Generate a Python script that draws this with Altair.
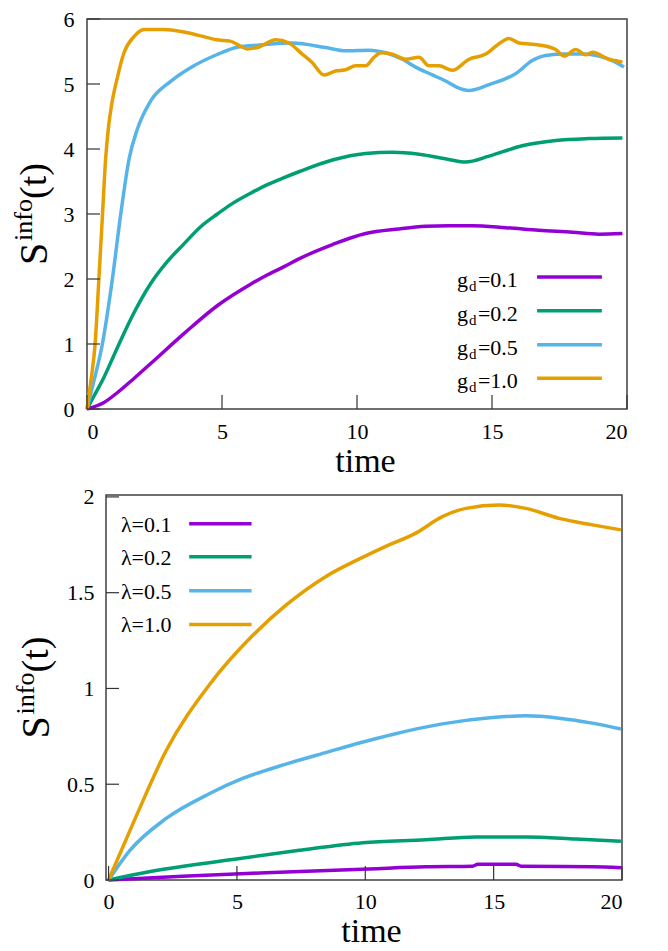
import altair as alt
import pandas as pd

FONT = "Liberation Serif"
COLORS = ["#9400d3", "#009e73", "#56b4e9", "#e69f00"]

# ---------------- top panel (g_d) ----------------
top_names = ["0.1", "0.2", "0.5", "1.0"]

top_t_01 = [0, 0.63, 1.12, 1.74, 2.36, 3.59, 4.86, 6.06, 6.62, 7.3, 7.85, 9.09, 10.32, 11.56, 12.54, 13.4, 14.27, 15.51, 16.74, 17.98, 18.96, 19.83]
top_s_01 = [0, 0.10, 0.25, 0.47, 0.70, 1.16, 1.60, 1.92, 2.05, 2.19, 2.31, 2.53, 2.70, 2.77, 2.81, 2.82, 2.82, 2.79, 2.75, 2.72, 2.69, 2.70]

top_t_02 = [0, 0.26, 0.63, 1.12, 1.74, 2.36, 2.98, 3.59, 4.2, 4.83, 5.38, 6.06, 6.62, 7.3, 7.85, 9.09, 10.32, 11.31, 12.3, 13.4, 14.02, 14.89, 16.12, 17.36, 18.59, 19.83]
top_s_02 = [0, 0.20, 0.49, 0.94, 1.48, 1.93, 2.27, 2.54, 2.80, 3.00, 3.16, 3.32, 3.44, 3.56, 3.65, 3.83, 3.93, 3.95, 3.92, 3.84, 3.80, 3.89, 4.05, 4.13, 4.16, 4.17]

top_t_05 = [0, 0.25, 0.57, 0.94, 1.25, 1.56, 1.86, 2.36, 3.1, 3.96, 4.8, 5.6, 6.4, 7.6, 8.84, 9.58, 10.44, 11.06, 11.68, 12.17, 12.79, 13.4, 13.65, 14.15, 14.89, 15.88, 16.49, 16.99, 17.73, 18.35, 18.96, 19.46, 19.89]
top_s_05 = [0, 0.42, 1.00, 2.00, 3.00, 3.85, 4.30, 4.74, 5.04, 5.28, 5.45, 5.57, 5.60, 5.63, 5.56, 5.51, 5.52, 5.48, 5.38, 5.26, 5.14, 5.02, 4.96, 4.90, 4.99, 5.16, 5.36, 5.44, 5.46, 5.46, 5.43, 5.36, 5.26]

top_t_10 = [0, 0.15, 0.3, 0.44, 0.57, 0.69, 0.8, 0.9, 1.12, 1.37, 1.74, 2.11, 2.85, 3.59, 4.21, 4.8, 5.3, 5.69, 5.93, 6.37, 6.99, 7.48, 7.97, 8.34, 8.78, 9.21, 9.58, 9.95, 10.32, 10.63, 10.88, 11.31, 11.8, 12.3, 12.67, 13.04, 13.53, 14.15, 14.77, 15.14, 15.63, 16.0, 16.74, 17.36, 17.67, 18.1, 18.47, 18.72, 19.33, 19.83]
top_s_10 = [0, 0.45, 1.00, 2.00, 2.96, 3.85, 4.35, 4.65, 5.09, 5.48, 5.73, 5.84, 5.84, 5.80, 5.74, 5.68, 5.66, 5.58, 5.54, 5.57, 5.68, 5.63, 5.46, 5.33, 5.14, 5.20, 5.22, 5.28, 5.28, 5.41, 5.48, 5.46, 5.38, 5.41, 5.28, 5.28, 5.21, 5.38, 5.46, 5.58, 5.70, 5.63, 5.60, 5.53, 5.43, 5.53, 5.45, 5.49, 5.38, 5.34]

top_x_ticks = [0, 5, 10, 15, 20]
top_y_ticks = [0, 1, 2, 3, 4, 5, 6]

# ---------------- bottom panel (lambda) ----------------
bot_names = ["0.1", "0.2", "0.5", "1.0"]

bot_t_01 = [0, 2.88, 6.13, 10.15, 12.36, 14.18, 14.38, 15.87, 16.07, 18.85, 19.96]
bot_s_01 = [0, 0.020, 0.038, 0.058, 0.069, 0.072, 0.082, 0.082, 0.072, 0.069, 0.064]

bot_t_02 = [0, 1.58, 4.83, 7.43, 9.9, 12.36, 14.31, 16.26, 18.2, 19.96]
bot_s_02 = [0, 0.043, 0.107, 0.155, 0.195, 0.210, 0.225, 0.225, 0.214, 0.202]

bot_t_05 = [0, 0.8, 2.23, 3.92, 5.22, 6.91, 8.59, 9.76, 11.06, 13.0, 14.96, 16.26, 17.55, 18.85, 19.96]
bot_s_05 = [0, 0.150, 0.320, 0.450, 0.530, 0.605, 0.670, 0.715, 0.760, 0.815, 0.848, 0.857, 0.845, 0.819, 0.788]

bot_t_10 = [0, 1.06, 2.23, 3.92, 5.61, 6.91, 8.47, 9.75, 10.8, 11.97, 13.0, 13.92, 15.22, 16.26, 17.55, 18.85, 19.96]
bot_s_10 = [0, 0.328, 0.672, 1.018, 1.276, 1.435, 1.585, 1.675, 1.742, 1.811, 1.897, 1.940, 1.958, 1.940, 1.888, 1.854, 1.828]

bot_x_ticks = [0, 5, 10, 15, 20]
bot_y_ticks = [0, 0.5, 1, 1.5, 2]


def panel(ts, ss, names, xdom, ydom, xticks, yticks, W, H, fl,
          leg_rows, leg_tx, leg_x1, leg_x2, kind, title_bx, label_pad_y, label_pad_x, title_dx):
    rows = []
    for name, tv, sv in zip(names, ts, ss):
        for a, b in zip(tv, sv):
            rows.append({"series": name, "t": a, "S": b})
    df = pd.DataFrame(rows)

    xs = alt.Scale(domain=xdom, range=[fl, W], nice=False, zero=False)
    ys = alt.Scale(domain=ydom, nice=False, zero=False)
    cs = alt.Scale(domain=names, range=COLORS)

    xax = alt.Axis(values=xticks, format="~g", title="time", labelPadding=label_pad_x,
                   titlePadding=2, titleX=(fl + W) / 2 + title_dx)
    yax = alt.Axis(values=yticks, format="~g", title=None, labelPadding=label_pad_y,
                   offset=-fl)

    one = pd.DataFrame({"a": [0]})
    frame = alt.Chart(one).mark_rect(filled=False, stroke="#404040", strokeWidth=1.5).encode(
        x=alt.value(fl), x2=alt.value(W), y=alt.value(0), y2=alt.value(H))

    lines = alt.Chart(df).mark_line(strokeWidth=3.5, interpolate="monotone").encode(
        x=alt.X("t:Q", scale=xs, axis=xax),
        y=alt.Y("S:Q", scale=ys, axis=yax),
        color=alt.Color("series:N", scale=cs, legend=None),
    )

    ytk = alt.Chart(pd.DataFrame({"v": yticks})).mark_rule(color="#333333", strokeWidth=1.2).encode(
        y=alt.Y("v:Q", scale=ys, axis=yax), x=alt.value(fl), x2=alt.value(fl + 13))
    xtk = alt.Chart(pd.DataFrame({"v": xticks})).mark_rule(color="#333333", strokeWidth=1.2).encode(
        x=alt.X("v:Q", scale=xs, axis=xax), y=alt.value(H), y2=alt.value(H - 14))

    leg = pd.DataFrame({
        "series": names,
        "ly": leg_rows,
        "x1": [leg_x1] * len(names),
        "x2": [leg_x2] * len(names),
        "tx": [leg_tx] * len(names),
        "lab": [("=" if kind == "g" else "λ=") + n for n in names],
    })
    legline = alt.Chart(leg).mark_rule(strokeWidth=3.5).encode(
        x=alt.X("x1:Q", scale=xs, axis=xax), x2="x2:Q",
        y=alt.Y("ly:Q", scale=ys, axis=yax),
        color=alt.Color("series:N", scale=cs, legend=None),
    )
    layers = [frame, lines, ytk, xtk, legline]
    X = alt.X("tx:Q", scale=xs, axis=xax)
    Y = alt.Y("ly:Q", scale=ys, axis=yax)
    if kind == "g":
        g = alt.Chart(leg).mark_text(text="g", font=FONT, fontSize=22, align="left",
                                     baseline="alphabetic", dy=10, color="black").encode(x=X, y=Y)
        d = alt.Chart(leg).mark_text(text="d", font=FONT, fontSize=15, align="left",
                                     baseline="alphabetic", dx=12, dy=14, color="black").encode(x=X, y=Y)
        rest = alt.Chart(leg).mark_text(font=FONT, fontSize=22, align="left",
                                        baseline="alphabetic", dx=21, dy=10, color="black").encode(
            x=X, y=Y, text="lab:N")
        layers += [g, d, rest]
    else:
        txt = alt.Chart(leg).mark_text(font=FONT, fontSize=22, align="left",
                                       baseline="alphabetic", dy=8, color="black").encode(
            x=X, y=Y, text="lab:N")
        layers += [txt]

    def tt(text, size, x, y):
        return alt.Chart(one).mark_text(text=text, font=FONT, fontSize=size, angle=270,
                                        align="left", baseline="alphabetic",
                                        color="black").encode(x=alt.value(x), y=alt.value(y))

    c = H / 2
    layers += [
        tt("S", 40, title_bx, c + 51),
        tt("info", 26, title_bx - 15, c + 27),
        tt("(t)", 38, title_bx - 1, c - 15),
    ]
    return alt.layer(*layers).properties(width=W, height=H)


top = panel([top_t_01, top_t_02, top_t_05, top_t_10],
            [top_s_01, top_s_02, top_s_05, top_s_10],
            top_names, [0, 20], [0, 6], top_x_ticks, top_y_ticks, 540, 390, 0,
            [2.03, 1.51, 0.99, 0.474], 13.7, 16.67, 19.07, "g", -40, 13, 12, 8)

bot = panel([bot_t_01, bot_t_02, bot_t_05, bot_t_10],
            [bot_s_01, bot_s_02, bot_s_05, bot_s_10],
            bot_names, [-0.1, 20], [0, 2.01], bot_x_ticks, bot_y_ticks, 535, 385, 19,
            [1.86, 1.687, 1.51, 1.334], 0.48, 3.14, 5.57, "l", -38, 12, 11, 7)

chart = alt.vconcat(top, bot, spacing=7).properties(
    padding={"left": 3, "top": 0, "right": 5, "bottom": 0}
).configure_view(strokeWidth=0).configure_axis(
    labelFont=FONT, titleFont=FONT, labelFontSize=22, titleFontSize=34,
    titleFontWeight="normal", labelColor="black", titleColor="black",
    grid=False, domain=False, ticks=False, tickSize=0,
)

chart.save("out.html", embed_options={"renderer": "svg", "actions": False})
